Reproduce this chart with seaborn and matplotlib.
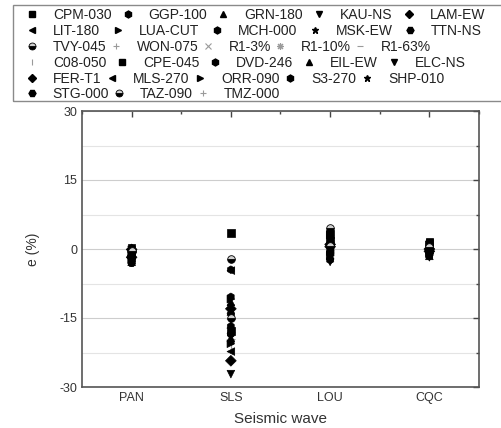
import numpy as np
import pandas as pd
import matplotlib.pyplot as plt
import seaborn as sns
from matplotlib.lines import Line2D
from matplotlib.patches import Rectangle
from matplotlib.ticker import MultipleLocator

# ------------------------------------------------------------------------------
# data: relative error e (%) of each record for each method
# ------------------------------------------------------------------------------

waves = ['PAN', 'SLS', 'LOU', 'CQC']

records = ['CPM-030', 'GGP-100', 'GRN-180', 'KAU-NS', 'LAM-EW',
           'LIT-180', 'LUA-CUT', 'MCH-000', 'MSK-EW', 'TTN-NS',
           'TVY-045', 'WON-075', 'R1-3%', 'R1-10%', 'R1-63%',
           'C08-050', 'CPE-045', 'DVD-246', 'EIL-EW', 'ELC-NS',
           'FER-T1', 'MLS-270', 'ORR-090', 'S3-270', 'SHP-010',
           'STG-000', 'TAZ-090', 'TMZ-000']

pan = [-1.2, -0.5, -2.8, -0.2, -1.8, -0.8, -2.2, -0.3, -1.5, -3.1,
       -0.4, -1.0, -2.5, -0.6, -1.9, -1.1, 0.2, -2.6, -0.7, -1.4,
       -0.1, -2.0, -0.9, -3.0, -1.6, 0.1, -0.5, -1.3]

sls = [3.5, -10.4, -11.5, -27.2, -13.0, -4.7, -20.6, -4.5, -12.4, -14.0,
       -2.2, -15.3, -16.0, -17.2, -19.5, -21.0, -17.8, -18.5, -13.6, -19.2,
       -24.3, -22.3, -10.9, -16.8, -12.9, -20.1, -15.0, -18.0]

lou = [3.3, 2.8, 2.0, -2.8, 0.5, 1.2, -1.5, 0.0, 2.4, -0.8,
       4.6, 1.5, -2.0, 0.8, -1.2, -0.3, 1.8, -2.4, 0.2, -1.8,
       1.0, -0.5, 3.0, -1.0, 0.4, -2.2, 0.6, -0.2]

cqc = [1.6, 1.2, -1.5, -1.8, -0.5, 0.3, -1.0, 0.8, -1.2, -0.2,
       0.5, -0.8, 1.0, -1.4, 0.1, -0.6, 1.4, -1.6, 0.6, -1.1,
       0.0, -0.4, 0.9, -1.3, 0.2, -0.9, 0.4, -0.1]

# ------------------------------------------------------------------------------
# marker styles
# ------------------------------------------------------------------------------

markers = {'CPM-030': 's', 'GGP-100': 'h', 'GRN-180': '^', 'KAU-NS': 'v', 'LAM-EW': 'D',
           'LIT-180': '<', 'LUA-CUT': '>', 'MCH-000': 'h', 'MSK-EW': '*', 'TTN-NS': 'H',
           'TVY-045': 'o', 'WON-075': '+', 'R1-3%': 'x', 'R1-10%': (8, 2, 0), 'R1-63%': '_',
           'C08-050': '|', 'CPE-045': 's', 'DVD-246': 'h', 'EIL-EW': '^', 'ELC-NS': 'v',
           'FER-T1': 'D', 'MLS-270': '<', 'ORR-090': '>', 'S3-270': 'h', 'SHP-010': '*',
           'STG-000': 'H', 'TAZ-090': 'o', 'TMZ-000': '+'}

line_art = ['WON-075', 'R1-3%', 'R1-10%', 'R1-63%', 'C08-050', 'TMZ-000']
half_filled = ['TVY-045', 'TAZ-090']

df = pd.DataFrame({'record': records * 4,
                   'wave': np.repeat(waves, len(records)),
                   'e': pan + sls + lou + cqc})

filled_df = df[~df['record'].isin(line_art + half_filled)]
line_df = df[df['record'].isin(line_art)]

# ------------------------------------------------------------------------------
# plot
# ------------------------------------------------------------------------------

sns.set_style('white')
plt.rcParams['font.family'] = ['Liberation Sans', 'DejaVu Sans']
plt.rcParams['axes.unicode_minus'] = False

fig = plt.figure(figsize=(5.02, 4.28), dpi=100)
ax = fig.add_axes([82/502, 1-387/428, 397/502, 276/428])

# line-art markers (gray) first, then the filled ones
sns.scatterplot(data=line_df, x='wave', y='e', style='record',
                markers={k: markers[k] for k in line_art}, color='#9a9a9a',
                s=30, linewidth=0.8, legend=False, ax=ax, zorder=2)
sns.scatterplot(data=filled_df, x='wave', y='e', style='record',
                markers={k: markers[k] for k in records if k not in line_art + half_filled},
                color='black', edgecolor='black', linewidth=0.5,
                s=30, legend=False, ax=ax, zorder=3)

# half filled circles
for name in half_filled:
    sub = df[df['record'] == name]
    ax.plot(sub['wave'], sub['e'], ls='none', marker='o', markersize=5.5,
            fillstyle='bottom', color='black', markerfacecoloralt='#d0d0d0',
            markeredgewidth=0.6, zorder=4)

# axes params
ax.set_xlim(-0.5, 3.5)
ax.set_ylim(-30, 30)
ax.yaxis.set_major_locator(MultipleLocator(15))
ax.yaxis.set_minor_locator(MultipleLocator(7.5))
ax.xaxis.set_minor_locator(MultipleLocator(0.5))
ax.grid(axis='y', which='major', color='#cdcdcd', linewidth=0.8, zorder=0)
ax.grid(axis='y', which='minor', color='#e4e4e4', linewidth=0.8, zorder=0)
ax.set_axisbelow(True)
ax.tick_params(which='both', direction='in', top=True, right=True,
               color='#444444', labelsize=9, labelcolor='#333333')
ax.tick_params(which='major', length=4, width=1)
ax.tick_params(which='minor', length=2.5, width=1)
for sp in ax.spines.values():
    sp.set_color('#555555')
    sp.set_linewidth(1.2)

ax.set_xlabel('Seismic wave', fontsize=11, color='#333333', labelpad=6)
ax.set_ylabel('e (%)', fontsize=10, color='#333333', labelpad=14)

# ------------------------------------------------------------------------------
# legend: one row at a time, inside one box
# ------------------------------------------------------------------------------

def make_handle(name):
    m = markers[name]
    if name in line_art:
        return Line2D([], [], ls='none', marker=m, color='#9a9a9a', markersize=5, markeredgewidth=0.8)
    if name in half_filled:
        return Line2D([], [], ls='none', marker=m, color='black', markersize=5,
                      fillstyle='bottom', markerfacecoloralt='#d0d0d0', markeredgewidth=0.6)
    return Line2D([], [], ls='none', marker=m, color='black', markersize=4 if m == 'D' else 5)

row_y = [15, 31, 47, 63, 79, 94]
row_spacing = [0.67, 0.78, 0.17, 0.65, 0.28, 0.22]

for i, y in enumerate(row_y):
    names = records[i*5:(i+1)*5]
    fig.legend([make_handle(n) for n in names], names, loc='center left',
               bbox_to_anchor=(25/502, 1-y/428), ncol=len(names), frameon=False,
               borderpad=0, borderaxespad=0, handlelength=1.0, handletextpad=1.0,
               columnspacing=row_spacing[i], fontsize=10, labelcolor='#222222')

fig.add_artist(Rectangle((13/502, 1-101/428), 1.0, 96/428, transform=fig.transFigure,
                         fill=False, edgecolor='#8a8a8a', linewidth=1, clip_on=False))

# save image
fig.savefig('out.png', dpi=100)
plt.close()
